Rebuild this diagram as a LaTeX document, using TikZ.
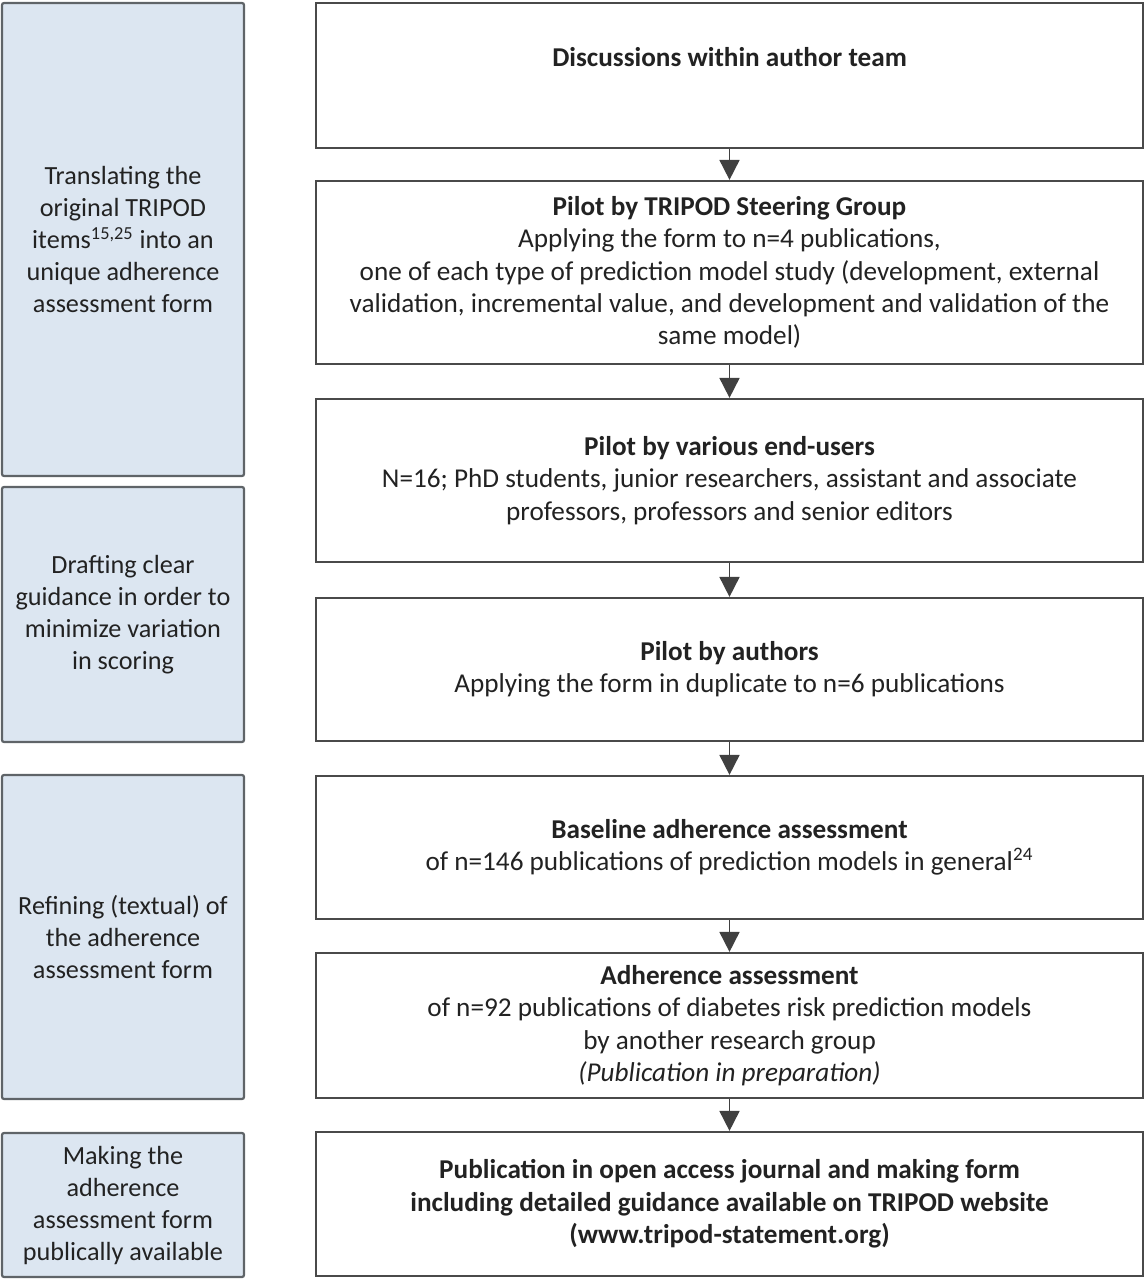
\documentclass[tikz,border=0pt]{standalone}
\usepackage{fontspec}
\setmainfont{Carlito}
\usetikzlibrary{arrows.meta}
\definecolor{lblue}{HTML}{DCE6F1}
\definecolor{lbord}{HTML}{5F6468}
\definecolor{rbord}{HTML}{4A4A4A}
\definecolor{txt}{HTML}{222222}
\definecolor{arrcol}{HTML}{404040}
\begin{document}
\begin{tikzpicture}[x=0.5pt,y=-0.5pt,
  base/.style={align=center, inner sep=0pt, text=txt},
  lbox/.style={base, font=\fontsize{13.1}{16}\selectfont, draw=lbord, line width=1.1pt, fill=lblue, rounded corners=1pt, minimum width=121pt},
  rbox/.style={base, font=\fontsize{13.6}{16.2}\selectfont, draw=rbord, line width=1.1pt, fill=white, minimum width=413.5pt},
  arr/.style={draw=arrcol, line width=0.9pt, -{Triangle[length=10pt,width=10pt]}, shorten >=0pt}]
\useasboundingbox (0,0) rectangle (1146,1280);

% left boxes
\node[lbox, minimum height=236.5pt] (l1) at (123,239.5) {Translating the\\original TRIPOD\\items\textsuperscript{15,25} into an\\unique adherence\\assessment form};
\node[lbox, minimum height=127.5pt] (l2) at (123,614.5) {Drafting clear\\guidance in order to\\minimize variation\\in scoring};
\node[lbox, minimum height=162pt] (l3) at (123,937) {Refining (textual) of\\the adherence\\assessment form};
\node[lbox, minimum height=72pt] (l4) at (123,1205) {Making the\\adherence\\assessment form\\publically available};

% right boxes
\node[rbox, minimum height=72.5pt] (r1) at (729.5,75.5) {\textbf{Discussions within author team}\\[2.5pt]\mbox{}};
\node[rbox, minimum height=91.5pt] (r2) at (729.5,272.5) {\textbf{Pilot by TRIPOD Steering Group}\\Applying the form to n=4 publications,\\one of each type of prediction model study (development, external\\validation, incremental value, and development and validation of the\\same model)};
\node[rbox, minimum height=81.5pt] (r3) at (729.5,480.5) {\textbf{Pilot by various end-users}\\N=16; PhD students, junior researchers, assistant and associate\\professors, professors and senior editors};
\node[rbox, minimum height=71.5pt] (r4) at (729.5,669.5) {\textbf{Pilot by authors}\\Applying the form in duplicate to n=6 publications};
\node[rbox, minimum height=71.5pt] (r5) at (729.5,847.5) {\textbf{Baseline adherence assessment}\\of n=146 publications of prediction models in general\textsuperscript{24}};
\node[rbox, minimum height=72.5pt] (r6) at (729.5,1025.5) {\textbf{Adherence assessment}\\of n=92 publications of diabetes risk prediction models\\by another research group\\\textit{(Publication in preparation)}};
\node[rbox, minimum height=72pt] (r7) at (729.5,1204) {\textbf{Publication in open access journal and making form}\\\textbf{including detailed guidance available on TRIPOD website}\\\textbf{(www.tripod-statement.org)}};

% arrows
\foreach \a/\b in {r1/r2,r2/r3,r3/r4,r4/r5,r5/r6,r6/r7}
  \draw[arr] (\a.south) -- (\b.north);
\end{tikzpicture}
\end{document}
